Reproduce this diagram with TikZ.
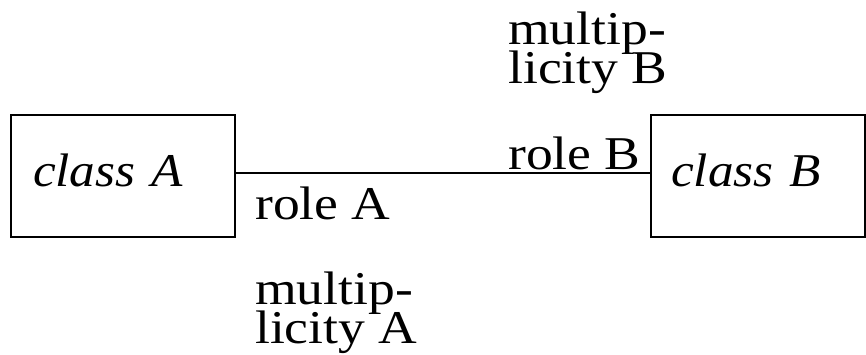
\documentclass[tikz,border=0pt]{standalone}
\usepackage{fontspec}
\setmainfont[FakeStretch=1.14, ItalicFeatures={FakeStretch=1.09}]{Liberation Serif}
\usepackage{tikz}
\newcommand\umlfont{\fontsize{47}{39}\selectfont\lineskiplimit=-50pt\relax}

\begin{document}
\begin{tikzpicture}[
  x=1pt, y=-1pt,
  font=\umlfont,
  classbox/.style={draw, line width=1.5pt, minimum width=224pt, minimum height=122pt, inner xsep=20pt, align=left, text width=180pt, text height=32pt, text depth=10pt, font=\umlfont\itshape},
  lbl/.style={inner sep=0pt, anchor=base west, align=left},
  assoc/.style={line width=1.5pt}
]
\useasboundingbox (0,0) rectangle (866,355);

\node[classbox] (A) at (123,176) {class A};
\node[classbox, minimum width=214pt, text width=174pt] (B) at (758,176) {class B};

% base of a two-line label is its last line
\node[lbl] (rB) at (508,170) {role B};
\node[lbl] (mB) at (508,84) {multip-\\licity B};
\node[lbl] (rA) at (255,219) {role A};
\node[lbl] (mA) at (255,343) {multip-\\licity A};

\draw[assoc] ([yshift=3pt]A.east) -- ([yshift=3pt]B.west);
\end{tikzpicture}
\end{document}
